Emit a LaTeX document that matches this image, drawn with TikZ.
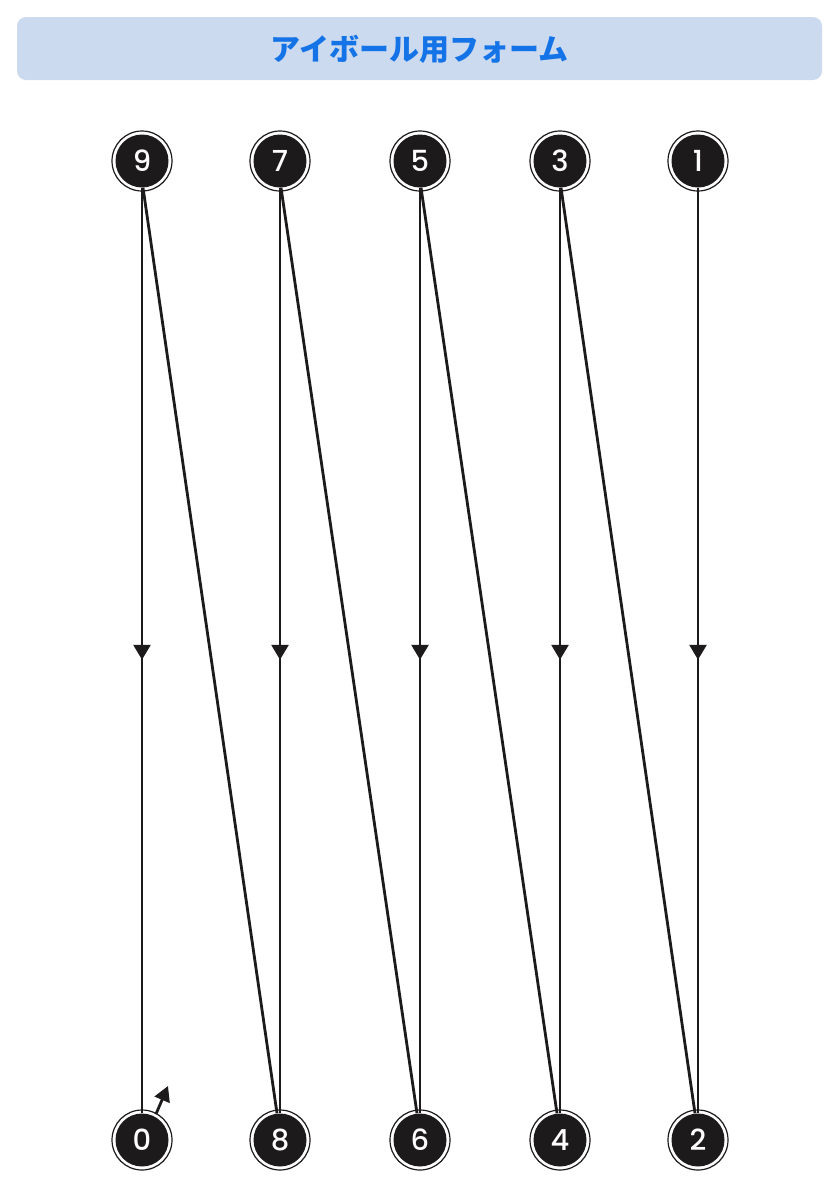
\documentclass[tikz,border=0pt]{standalone}
\usepackage{fontspec}
\newfontfamily\jpfont{Noto Sans CJK JP}
\newfontfamily\numfont{Poppins}[UprightFont={* Medium},BoldFont={* SemiBold}]
\usetikzlibrary{arrows.meta,decorations.markings}
\definecolor{ink}{HTML}{1C1A1A}
\definecolor{barfill}{HTML}{CCDAF0}
\definecolor{titleblue}{HTML}{1473E6}
\tikzset{
  ring/.style={draw=ink,line width=1.2pt},
  ball/.style={circle,fill=ink,minimum size=53pt,inner sep=0pt,text=white,font=\numfont\fontsize{29}{29}\selectfont},
  wire/.style={draw=ink,line width=2.8pt},
  midarrow/.style={wire,decoration={markings,mark=at position 0.51 with {\arrow{Triangle[width=17pt,length=15pt]}}},postaction={decorate}}
}
\begin{document}
\begin{tikzpicture}[x=1pt,y=-1pt]
\useasboundingbox (0,0) rectangle (839,1186);
\fill[white] (0,0) rectangle (839,1186);
\node[fill=barfill,rounded corners=9pt,minimum width=805pt,minimum height=63pt,inner sep=0pt] (bar) at (419.5,48.5) {};
\node[text=titleblue,font=\jpfont\bfseries\fontsize{30}{30}\selectfont] (title) at (419.5,49) {アイボール用フォーム};
% balls
\foreach \n/\x/\y in {9/142/161,7/280/161,5/420/161,3/560/161,1/698/161,0/142/1140,8/280/1140,6/420/1140,4/560/1140,2/698/1140}{
  \draw[ring] (\x,\y) circle (30pt);
  \node[ball] (n\n) at (\x,\y) {\n};
}
% verticals
\path[midarrow] (n9.south) -- (n0.north);
\path[midarrow] (n7.south) -- (n8.north);
\path[midarrow] (n5.south) -- (n6.north);
\path[midarrow] (n3.south) -- (n4.north);
\path[midarrow] (n1.south) -- (n2.north);
% diagonals
\draw[wire] ([xshift=1pt]n9.south) -- ([xshift=-3pt]n8.north);
\draw[wire] ([xshift=1pt]n7.south) -- ([xshift=-3pt]n6.north);
\draw[wire] ([xshift=1pt]n5.south) -- ([xshift=-3pt]n4.north);
\draw[wire] ([xshift=1pt]n3.south) -- ([xshift=-3pt]n2.north);
% small arrow
\coordinate (s0) at (156,1114);
\coordinate (s1) at (168,1086);
\draw[wire,-{Triangle[width=16pt,length=15pt]}] (s0) -- (s1);
\end{tikzpicture}
\end{document}
